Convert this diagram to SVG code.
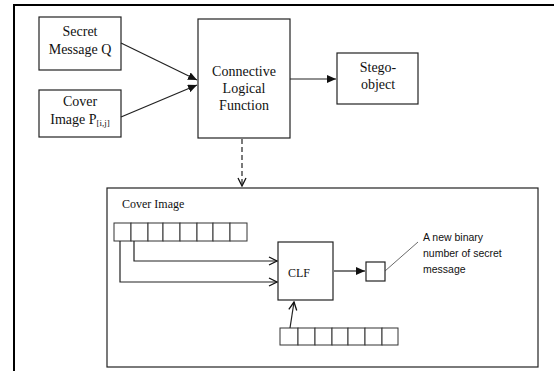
<svg xmlns="http://www.w3.org/2000/svg" width="554" height="371" viewBox="0 0 554 371">
<defs>
<style>
.box{fill:#fff;stroke:#222;stroke-width:1.2}
.frame{fill:none;stroke:#222;stroke-width:1.2}
.cell{fill:#fff;stroke:#333;stroke-width:1}
.ln{fill:none;stroke:#222;stroke-width:1.2}
.t{font-family:"Liberation Serif","Times New Roman",serif;font-size:14px;fill:#111;text-anchor:middle}
.s{font-family:"Liberation Serif","Times New Roman",serif;font-size:12px;fill:#111}
.n{font-family:"Liberation Sans",Arial,sans-serif;font-size:10.5px;fill:#111}
</style>
<marker id="fa" markerWidth="10" markerHeight="8" refX="9" refY="4" orient="auto" markerUnits="userSpaceOnUse">
<path d="M0,0 L9,4 L0,8 Z" fill="#111"/>
</marker>
<marker id="oa" markerWidth="10" markerHeight="10" refX="9" refY="5" orient="auto" markerUnits="userSpaceOnUse">
<path d="M1,1 L9,5 L1,9" fill="none" stroke="#111" stroke-width="1.3"/>
</marker>
</defs>
<rect width="554" height="371" fill="#fff"/>
<path d="M14,371 V5 H554" fill="none" stroke="#000" stroke-width="2"/>

<g id="secret">
<rect class="box" x="39" y="17" width="82" height="53"/>
<text class="t" x="80" y="36">Secret</text>
<text class="t" x="80" y="54">Message Q</text>
</g>
<g id="cover">
<rect class="box" x="39" y="90" width="82" height="47"/>
<text class="t" x="80" y="106">Cover</text>
<text class="t" x="80" y="124">Image P<tspan font-size="9" baseline-shift="-2">[i,j]</tspan></text>
</g>
<g id="clf-main">
<rect class="box" x="198" y="19" width="92" height="119"/>
<text class="t" x="244" y="76">Connective</text>
<text class="t" x="244" y="93">Logical</text>
<text class="t" x="244" y="110">Function</text>
</g>
<g id="stego">
<rect class="box" x="337" y="53" width="81" height="51"/>
<text class="t" x="378" y="72">Stego-</text>
<text class="t" x="378" y="89">object</text>
</g>

<g id="detail">
<rect class="frame" x="107" y="188" width="431" height="179"/>
<text class="s" x="122" y="208">Cover Image</text>
</g>
<g id="top-cells">
<rect class="cell" x="114" y="223" width="17" height="18"/>
<rect class="cell" x="131" y="223" width="17" height="18"/>
<rect class="cell" x="148" y="223" width="15" height="18"/>
<rect class="cell" x="163" y="223" width="17" height="18"/>
<rect class="cell" x="180" y="223" width="17" height="18"/>
<rect class="cell" x="197" y="223" width="16" height="18"/>
<rect class="cell" x="213" y="223" width="17" height="18"/>
<rect class="cell" x="230" y="223" width="17" height="18"/>
</g>
<g id="clf">
<rect class="box" x="278" y="242" width="55" height="58"/>
<text class="s" x="299" y="277" text-anchor="middle" font-size="11">CLF</text>
</g>
<g id="result">
<rect class="box" x="366" y="262" width="19" height="19"/>
</g>
<g id="note">
<text class="n" x="423" y="241">A new binary</text>
<text class="n" x="423" y="257">number of secret</text>
<text class="n" x="423" y="273">message</text>
</g>
<g id="bottom-cells">
<rect class="cell" x="280" y="328" width="18" height="17"/>
<rect class="cell" x="298" y="328" width="17" height="17"/>
<rect class="cell" x="315" y="328" width="17" height="17"/>
<rect class="cell" x="332" y="328" width="16" height="17"/>
<rect class="cell" x="348" y="328" width="17" height="17"/>
<rect class="cell" x="365" y="328" width="17" height="17"/>
<rect class="cell" x="382" y="328" width="16" height="17"/>
</g>

<g id="connectors">
<line class="ln" x1="121" y1="43" x2="197" y2="80" marker-end="url(#fa)"/>
<line class="ln" x1="121" y1="117" x2="197" y2="85" marker-end="url(#fa)"/>
<line class="ln" x1="290" y1="79" x2="336" y2="79" marker-end="url(#fa)"/>
<line class="ln" x1="242" y1="139" x2="242" y2="186" stroke-dasharray="5,3" marker-end="url(#oa)"/>
<polyline class="ln" points="134,241 134,261 277,261" marker-end="url(#oa)"/>
<polyline class="ln" points="120,241 120,282 277,282" marker-end="url(#oa)"/>
<line class="ln" x1="290" y1="328" x2="294" y2="302" marker-end="url(#oa)"/>
<line class="ln" x1="334" y1="271" x2="365" y2="271" marker-end="url(#fa)"/>
<line x1="385" y1="271" x2="418" y2="242" stroke="#444" stroke-width="0.8"/>
</g>
</svg>
